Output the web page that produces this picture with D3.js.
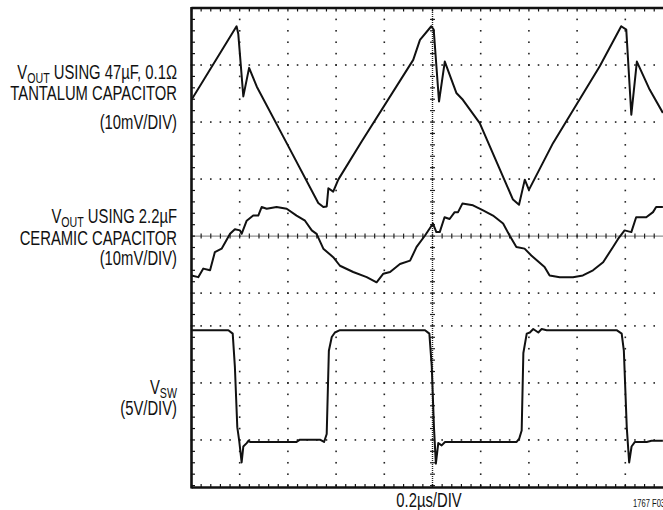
<!DOCTYPE html>
<html>
<head>
<meta charset="utf-8">
<script src="https://cdn.jsdelivr.net/npm/d3@7"></script>
<style>
  body { margin: 0; background: #fff; }
  svg { display: block; }
  text { font-family: "Liberation Sans", Arial, sans-serif; fill: #111; }
</style>
</head>
<body>
<div id="chart"></div>
<script>
// time base 0.2us/DIV, times in ns
const tantalumTime = [0, 187, 194, 215, 239, 271, 395, 526, 547, 561, 568, 588, 609, 706, 920, 948, 995, 1005, 1027, 1051, 1099, 1126, 1196, 1334, 1359, 1383, 1400, 1500, 1694, 1783, 1804, 1825, 1848, 1901, 1956];
const tantalumMv   = [3.9, 16.8, 15.5, 4.5, 9.5, 6.2, -3.7, -14.2, -14.9, -14.8, -11.6, -12.2, -10.1, -3.4, 10.9, 14.4, 16.8, 16.2, 3.6, 10.6, 5.1, 3.9, -0.2, -13.6, -14.5, -10.1, -11.9, -3.7, 9.8, 16.8, 16.2, 1.3, 10.6, 5.7, 1.6];

const ceramicTime = [0, 28, 49, 77, 97, 125, 160, 180, 201, 208, 229, 256, 277, 291, 312, 353, 395, 436, 471, 499, 519, 547, 588, 616, 671, 727, 768, 796, 824, 865, 907, 934, 969, 1002, 1016, 1030, 1050, 1071, 1092, 1106, 1124, 1168, 1210, 1251, 1293, 1320, 1348, 1382, 1410, 1465, 1486, 1528, 1583, 1624, 1666, 1708, 1749, 1770, 1797, 1825, 1845, 1887, 1915, 1928, 1956];
const ceramicMv   = [-6.9, -7.2, -5.7, -6.0, -2.8, -2.2, 0.4, 1.2, 1.0, 0.4, 2.7, 3.6, 3.6, 5.1, 4.8, 5.1, 4.8, 3.6, 2.7, 1.0, 0.4, -2.2, -3.7, -5.2, -6.3, -7.2, -8.1, -6.6, -6.3, -4.9, -4.3, -1.9, 0.1, 2.2, 0.7, 0.7, 3.3, 3.0, 4.2, 4.2, 5.7, 5.4, 4.5, 3.6, 2.2, 0.1, -1.9, -2.2, -3.4, -5.4, -6.9, -7.2, -7.2, -6.9, -6.0, -4.6, -1.9, -0.5, 1.0, 0.7, 3.3, 3.3, 4.2, 5.1, 5.1];

const switchTime = [0, 153, 171, 180, 190, 198, 208, 215, 229, 236, 243, 436, 450, 533, 550, 561, 570, 582, 595, 616, 969, 987, 997, 1006, 1014, 1024, 1038, 1052, 1349, 1360, 1370, 1377, 1391, 1404, 1418, 1439, 1453, 1474, 1764, 1785, 1794, 1806, 1816, 1826, 1840, 1889, 1909, 1956];
const switchV    = [9.8, 9.8, 9.5, 6.6, 1.3, 0.1, -1.8, -0.4, -0.1, 0.1, 0, 0, 0.2, 0.2, 0, 0.7, 8.0, 9.2, 9.6, 9.8, 9.8, 9.5, 6.6, 1.3, -1.9, -0.1, -0.3, 0, 0, 0.3, 1.0, 7.8, 9.5, 9.6, 9.9, 9.6, 9.9, 9.8, 9.8, 9.5, 8.0, 1.3, -1.8, -0.4, 0, 0, 0.1, 0.1];

// graticule
const gridTimes = [200, 400, 600, 800, 1200, 1400, 1600, 1800];
const gridDivs = [1, 2, 3, 5, 5.575, 6.575, 7.575];

const W = 663, H = 510;
const svg = d3.select("#chart").append("svg")
  .attr("width", W)
  .attr("height", H);

const x = d3.scaleLinear().domain([0, 2000]).range([191.5, 673.5]);
const y = d3.scaleLinear().domain([0, 8.4]).range([8, 487]);

const traces = [
  { t: tantalumTime, v: tantalumMv, perDiv: 10, zero: 2 },
  { t: ceramicTime, v: ceramicMv, perDiv: 10, zero: 4 },
  { t: switchTime, v: switchV, perDiv: 5, zero: 7.61 }
];

const minorX = d3.range(0, 2001, 40);
const minorYUp = d3.range(0, 5.01, 0.2);
const minorYLow = d3.range(5.175, 8.4, 0.2);
const minorY = minorYUp.concat(minorYLow);

const grid = svg.append("g").attr("fill", "#222");

// dotted horizontal lines
gridDivs.forEach(d => {
  grid.selectAll(null)
    .data(minorX)
    .enter().append("rect")
    .attr("x", t => x(t) - 0.8)
    .attr("y", y(d) - 0.8)
    .attr("width", 1.6)
    .attr("height", 1.6);
});

// dotted vertical lines
gridTimes.forEach(t => {
  grid.selectAll(null)
    .data(minorY)
    .enter().append("rect")
    .attr("x", x(t) - 0.8)
    .attr("y", d => y(d) - 0.8)
    .attr("width", 1.6)
    .attr("height", 1.6);
});

// center axes with fine ticks
svg.append("line")
  .attr("x1", x(0)).attr("x2", W)
  .attr("y1", y(4)).attr("y2", y(4))
  .attr("stroke", "#222").attr("stroke-width", 1.4)
  .attr("stroke-dasharray", "1 1");
svg.selectAll(".htick")
  .data(minorX)
  .enter().append("line")
  .attr("class", "htick")
  .attr("x1", t => x(t)).attr("x2", t => x(t))
  .attr("y1", y(4) - 2.5).attr("y2", y(4) + 2.5)
  .attr("stroke", "#222").attr("stroke-width", 1.2);

svg.append("line")
  .attr("x1", x(1000)).attr("x2", x(1000))
  .attr("y1", y(0)).attr("y2", y(8.4))
  .attr("stroke", "#222").attr("stroke-width", 1.4)
  .attr("stroke-dasharray", "1 1");
svg.selectAll(".vtick")
  .data(minorY)
  .enter().append("line")
  .attr("class", "vtick")
  .attr("x1", x(1000) - 2.5).attr("x2", x(1000) + 2.5)
  .attr("y1", d => y(d)).attr("y2", d => y(d))
  .attr("stroke", "#222").attr("stroke-width", 1.2);

// frame
const frame = svg.append("g").attr("stroke", "#111");
frame.append("line")
  .attr("x1", x(0)).attr("x2", x(0))
  .attr("y1", y(0) - 1).attr("y2", y(8.4) + 1.5)
  .attr("stroke-width", 2.6);
frame.append("line")
  .attr("x1", x(0)).attr("x2", W)
  .attr("y1", y(0)).attr("y2", y(0))
  .attr("stroke-width", 2.6);
frame.append("line")
  .attr("x1", x(0)).attr("x2", W)
  .attr("y1", y(8.4) + 0.5).attr("y2", y(8.4) + 0.5)
  .attr("stroke-width", 2.4);
frame.selectAll(".ltick")
  .data(minorY)
  .enter().append("line")
  .attr("x1", x(0)).attr("x2", x(0) + 3.5)
  .attr("y1", d => y(d)).attr("y2", d => y(d))
  .attr("stroke-width", 1.2);
frame.selectAll(".ttick")
  .data(minorX)
  .enter().append("line")
  .attr("x1", t => x(t)).attr("x2", t => x(t))
  .attr("y1", y(0)).attr("y2", y(0) + 3.5)
  .attr("stroke-width", 1.2);
frame.selectAll(".btick")
  .data(minorX)
  .enter().append("line")
  .attr("x1", t => x(t)).attr("x2", t => x(t))
  .attr("y1", y(8.4)).attr("y2", y(8.4) - 3)
  .attr("stroke-width", 1.2);

// traces
svg.append("clipPath").attr("id", "screen")
  .append("rect")
  .attr("x", x(0)).attr("y", y(0))
  .attr("width", x(2000) - x(0)).attr("height", y(8.4) - y(0));

const line = d3.line()
  .x(d => x(d[0]))
  .y(d => y(d[1]));

traces.forEach(tr => {
  const pts = tr.t.map((t, i) => [t, tr.zero - tr.v[i] / tr.perDiv]);
  svg.append("path")
    .datum(pts)
    .attr("clip-path", "url(#screen)")
    .attr("fill", "none")
    .attr("stroke", "#111")
    .attr("stroke-width", 2)
    .attr("stroke-linejoin", "round")
    .attr("d", line);
});

// labels, condensed by squeezing Liberation Sans horizontally
const fs = 19.5;
const squeeze = 0.76;
function label(px, py, parts, anchor, size) {
  const t = svg.append("text")
    .attr("transform", `translate(${px},${py}) scale(${squeeze},1)`)
    .attr("text-anchor", anchor || "end")
    .style("font-size", (size || fs) + "px");
  let shifted = false;
  parts.forEach(p => {
    const ts = t.append("tspan").text(p.s);
    if (p.sub) {
      ts.attr("dy", 4).style("font-size", "14px");
      shifted = true;
    } else if (shifted) {
      ts.attr("dy", -4);
      shifted = false;
    }
  });
}

label(177, 78.5, [{ s: "V" }, { s: "OUT", sub: true }, { s: " USING 47µF, 0.1Ω" }]);
label(177, 99.5, [{ s: "TANTALUM CAPACITOR" }]);
label(177, 129, [{ s: "(10mV/DIV)" }]);
label(177, 222.5, [{ s: "V" }, { s: "OUT", sub: true }, { s: " USING 2.2µF" }]);
label(177, 245, [{ s: "CERAMIC CAPACITOR" }]);
label(177, 264.5, [{ s: "(10mV/DIV)" }]);
label(177, 393.5, [{ s: "V" }, { s: "SW", sub: true }]);
label(177, 415, [{ s: "(5V/DIV)" }]);

label(429, 506.5, [{ s: "0.2µs/DIV" }], "middle");
label(633, 506.5, [{ s: "1767 F03" }], "start", 10);
</script>
</body>
</html>
